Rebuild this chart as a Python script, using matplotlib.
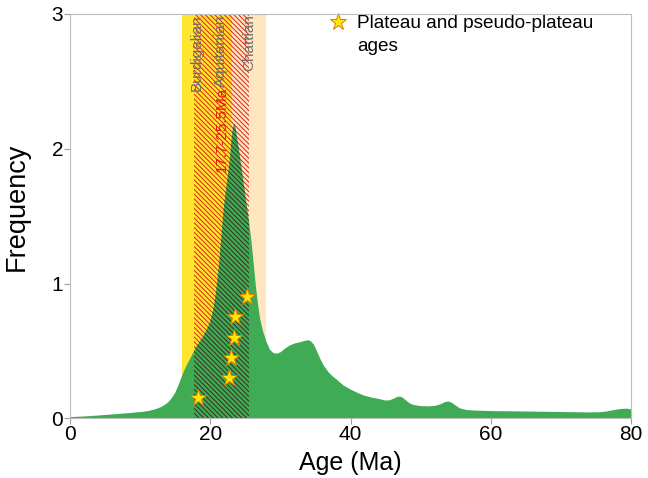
import matplotlib
matplotlib.use("Agg")
import matplotlib.pyplot as plt
from matplotlib.patches import Rectangle

plt.rcParams["font.family"] = ["Liberation Sans", "DejaVu Sans"]
plt.rcParams["hatch.linewidth"] = 0.7

# kernel density of the dated samples (age in Ma, frequency)
AGE = [0, 2, 4, 6, 8, 9.5, 10.5, 11.3, 12, 12.5, 13, 13.5, 14, 14.5, 15,
       15.5, 16, 16.5, 17, 17.5, 18, 18.5, 19, 19.5, 20, 20.4, 20.8, 21.2,
       21.6, 21.9, 22.2, 22.5, 22.8, 23.0, 23.2, 23.4, 23.6, 23.9, 24.3, 24.7,
       25.1, 25.5, 25.9, 26.2, 26.5, 26.8, 27.1, 27.5, 28.0, 28.5, 29.0, 29.5,
       30.0, 30.6, 31.3, 32.0, 32.8, 33.5, 34.0, 34.4, 34.8, 35.2, 35.7, 36.2,
       36.9, 37.5, 38.1, 39.0, 40.0, 41.0, 41.9, 43.0, 44.0, 45.0, 45.6, 46.2,
       46.7, 47.1, 47.5, 48.0, 48.5, 49.0, 50.0, 51.0, 52.0, 52.8, 53.5, 54.0,
       54.5, 55.0, 55.6, 56.5, 58.0, 60.0, 63.0, 66.0, 70.0, 74.0, 75.5, 76.5,
       77.5, 78.5, 79.3, 80.0]
FREQ = [0.01, 0.015, 0.022, 0.03, 0.038, 0.045, 0.05, 0.057, 0.066, 0.074,
        0.085, 0.10, 0.12, 0.15, 0.19, 0.25, 0.32, 0.38, 0.43, 0.48, 0.53,
        0.57, 0.61, 0.66, 0.72, 0.80, 0.93, 1.12, 1.36, 1.55, 1.68, 1.80, 1.93,
        2.05, 2.15, 2.185, 2.16, 2.06, 1.92, 1.77, 1.62, 1.47, 1.30, 1.14,
        0.98, 0.85, 0.74, 0.65, 0.57, 0.51, 0.485, 0.48, 0.49, 0.515, 0.54,
        0.555, 0.565, 0.575, 0.58, 0.57, 0.545, 0.50, 0.44, 0.39, 0.34, 0.31,
        0.285, 0.245, 0.215, 0.19, 0.17, 0.155, 0.145, 0.133, 0.135, 0.148,
        0.16, 0.162, 0.152, 0.13, 0.11, 0.10, 0.092, 0.09, 0.093, 0.105, 0.122,
        0.126, 0.115, 0.095, 0.075, 0.063, 0.058, 0.055, 0.053, 0.051, 0.048,
        0.045, 0.046, 0.052, 0.062, 0.07, 0.073, 0.068]

# plateau / pseudo-plateau ages
STAR_AGE = [18.2, 22.7, 22.95, 23.4, 23.5, 25.2]
STAR_FREQ = [0.15, 0.30, 0.45, 0.60, 0.75, 0.90]

# stratigraphic stages (Ma)
STAGES = ["Burdigalian", "Aquitanian", "Chattian"]
STAGE_START = [15.97, 20.44, 23.03]
STAGE_END = [20.44, 23.03, 28.0]
STAGE_COLOR = ["#ffe52e", "#ffe52e", "#fde6c0"]
STAGE_LABEL_X = [18.1, 21.5, 25.6]

RANGE = (17.7, 25.5)
RANGE_LABEL = "17.7-25.5Ma"

GREEN = "#3fab55"
STAR_STYLE = dict(ls="none", marker="*", ms=12.5, mfc="#ffe800",
                  mec="#e07a00", mew=0.7)
HATCH = "\\" * 7

fig = plt.figure(figsize=(6.48, 4.78), dpi=100)
ax = fig.add_axes([0.108, 0.1245, 0.866, 0.847])

for s, e, c in zip(STAGE_START, STAGE_END, STAGE_COLOR):
    ax.axvspan(s, e, color=c, lw=0, zorder=0.5)

# red hatching over the age range, behind the density curve
ax.add_patch(Rectangle((RANGE[0], 0), RANGE[1] - RANGE[0], 3,
                       facecolor="none", edgecolor="#e0201a", lw=0,
                       hatch=HATCH, zorder=0.8))

poly = ax.fill([AGE[0]] + AGE + [AGE[-1]], [0] + FREQ + [0],
               color=GREEN, lw=0, zorder=1)[0]

# darker hatching where the range overlaps the curve
dark = Rectangle((RANGE[0], 0), RANGE[1] - RANGE[0], 3,
                 facecolor="none", edgecolor="#3e2a20", lw=0,
                 hatch=HATCH, zorder=1.2)
ax.add_patch(dark)
dark.set_clip_path(poly)

for name, xl in zip(STAGES, STAGE_LABEL_X):
    ax.text(xl, 2.995, name, rotation=90, ha="center", va="top",
            fontsize=11, color="#6f6f6f", zorder=3)
ax.text(21.6, 2.46, RANGE_LABEL, rotation=90, ha="center", va="top",
        fontsize=11, color="#e8150f", zorder=3)

ax.plot(STAR_AGE, STAR_FREQ, zorder=4, **STAR_STYLE)

# key for the star symbols
ax.plot([0.4777], [0.980], transform=ax.transAxes, clip_on=False,
        **STAR_STYLE)
ax.text(0.5116, 0.997, "Plateau and pseudo-plateau\nages",
        transform=ax.transAxes, ha="left", va="top", fontsize=13.7,
        linespacing=1.45)

ax.set_xlim(0, 80)
ax.set_ylim(0, 3)
ax.set_xticks([0, 20, 40, 60, 80])
ax.set_yticks([0, 1, 2, 3])
ax.tick_params(direction="out", length=4, width=0.8, color="#a0a0a0",
               labelsize=15, pad=1)
for sp in ax.spines.values():
    sp.set_color("#bdbdbd")
    sp.set_linewidth(0.8)

ax.set_xlabel("Age (Ma)", fontsize=18, labelpad=5)
ax.set_ylabel("Frequency", fontsize=19.5)
ax.yaxis.set_label_coords(-0.0713, 0.523)

fig.savefig("out.png", dpi=100)
